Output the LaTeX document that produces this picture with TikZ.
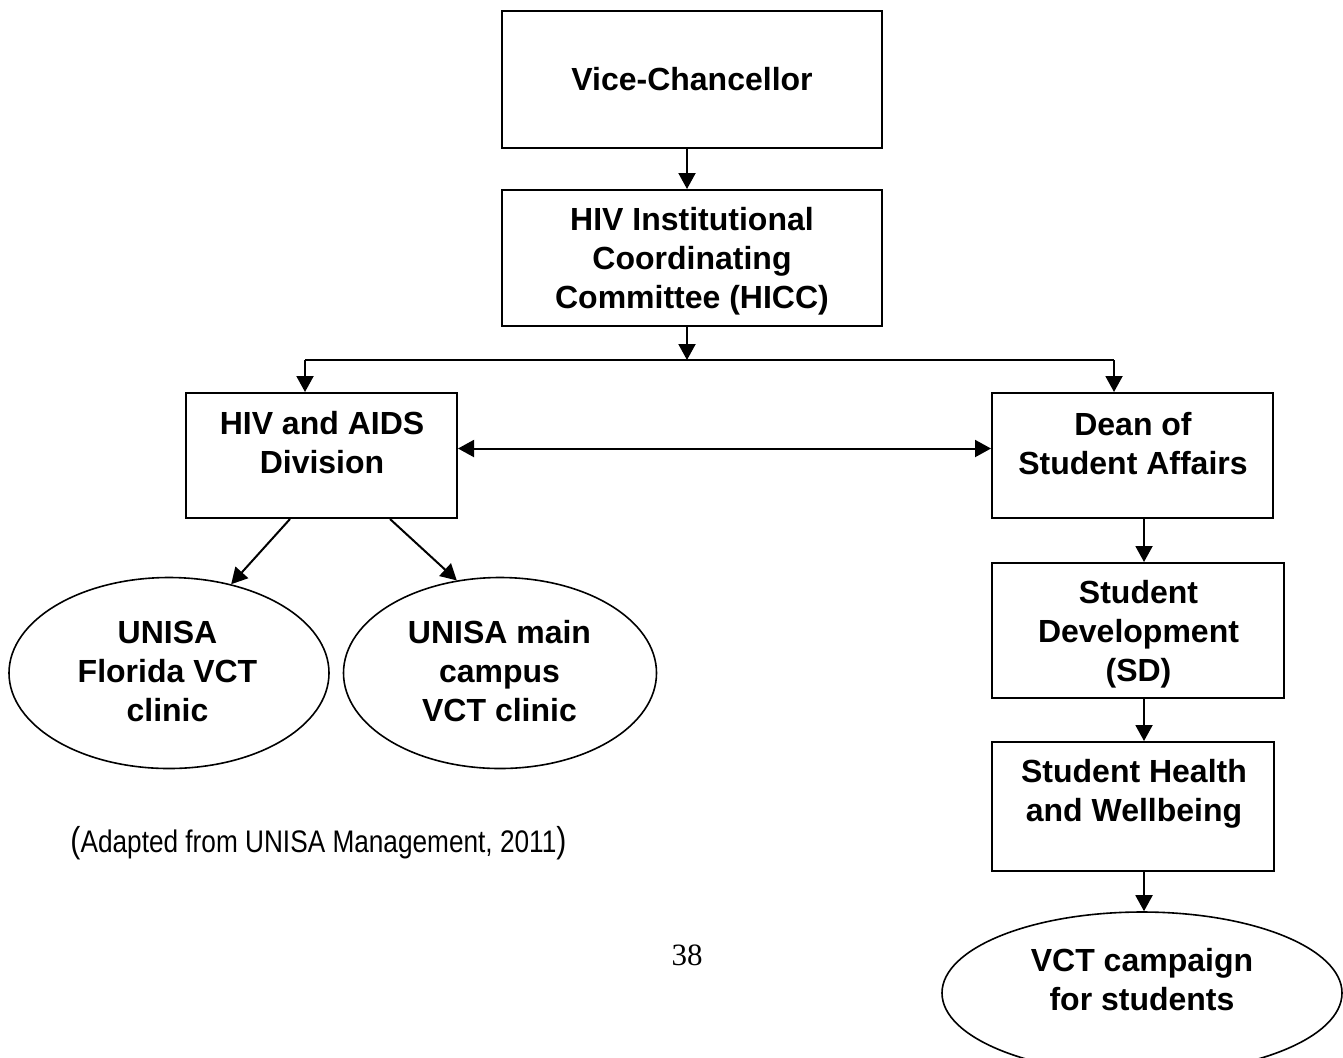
\documentclass[tikz,border=0pt]{standalone}
\usepackage{fontspec}
\setmainfont{Liberation Sans}
\newfontfamily\pagefont{Liberation Serif}
\newfontfamily\narrowfont[FakeStretch=0.84]{Liberation Sans}
\usetikzlibrary{arrows.meta,shapes.geometric}

\begin{document}
\begin{tikzpicture}[x=0.5pt, y=-0.5pt,
    box/.style={draw, line width=1pt, inner sep=0pt},
    oval/.style={draw, ellipse, line width=0.8pt, inner sep=0pt},
    txt/.style={align=center, font=\bfseries\fontsize{16}{19.5}\selectfont},
    arr/.style={line width=1pt, -{Triangle[length=8pt,width=8.5pt]}},
    arrboth/.style={line width=1pt, {Triangle[length=8pt,width=8.5pt]}-{Triangle[length=8pt,width=8.5pt]}}]
    \useasboundingbox (0,0) rectangle (1343,1057);

    % Top of the chain
    \node[box, minimum width=190pt, minimum height=68.5pt] (vc) at (692,79.5) {};
    \node[txt] (vc-t) at (692,79) {Vice-Chancellor};
    \node[box, minimum width=190pt, minimum height=68pt] (hicc) at (692,258) {};
    \node[txt] (hicc-t) at (692,261) {HIV Institutional\\Coordinating\\Committee (HICC)};

    % The two branches under the committee
    \node[box, minimum width=135.5pt, minimum height=62.5pt] (hiv) at (321.5,455.5) {};
    \node[txt] (hiv-t) at (322,443) {HIV and AIDS\\Division};
    \node[box, minimum width=140.5pt, minimum height=62.5pt] (dean) at (1132.5,455.5) {};
    \node[txt] (dean-t) at (1133,443.5) {Dean of\\Student Affairs};

    % Clinics under the division
    \node[oval, minimum width=160pt, minimum height=95.5pt] (e1) at (169,673) {};
    \node[txt] (e1-t) at (167.5,671) {UNISA\\Florida VCT\\clinic};
    \node[oval, minimum width=156.5pt, minimum height=95.5pt] (e2) at (500,673) {};
    \node[txt] (e2-t) at (499.5,671) {UNISA main\\campus\\VCT clinic};

    % Student affairs column
    \node[box, minimum width=146pt, minimum height=67.5pt] (sd) at (1138,630.5) {};
    \node[txt] (sd-t) at (1138.5,634) {Student\\Development\\(SD)};
    \node[box, minimum width=141pt, minimum height=64.5pt] (shw) at (1133,806.5) {};
    \node[txt] (shw-t) at (1134,794) {Student Health\\and Wellbeing};
    \node[oval, minimum width=200pt, minimum height=81pt] (e3) at (1142,993) {};
    \node[txt] (e3-t) at (1142,980) {VCT campaign\\for students};

    % Source and page number
    \node[font=\narrowfont\fontsize{15.6}{18}\selectfont] (src) at (318.5,843)
        {{\fontsize{18}{18}\selectfont(}Adapted from UNISA Management, 2011{\fontsize{18}{18}\selectfont)}};
    \node[font=\pagefont\fontsize{15.5}{18}\selectfont] (pg) at (687,955) {38};

    % Connectors
    \coordinate (split) at (687,360);
    \coordinate (lbend) at (305,360);
    \coordinate (rbend) at (1114,360);
    \coordinate (spine) at (1144,0);

    \draw[arr] (vc.south -| split) -- (hicc.north -| split);
    \draw[arr] (hicc.south -| split) -- (split);
    \draw[line width=1pt] (lbend) -- (rbend);
    \draw[arr] (lbend) -- (lbend |- hiv.north);
    \draw[arr] (rbend) -- (rbend |- dean.north);
    \draw[arrboth] ([yshift=3.5pt]hiv.east) -- ([yshift=3.5pt]dean.west);

    \draw[arr] ([xshift=-15.75pt]hiv.south) -- (e1.55);
    \draw[arr] ([xshift=34.25pt]hiv.south) -- (e2.115);

    \draw[arr] (dean.south -| spine) -- (sd.north -| spine);
    \draw[arr] (sd.south -| spine) -- (shw.north -| spine);
    \draw[arr] (shw.south -| spine) -- (e3.north -| spine);
\end{tikzpicture}
\end{document}
